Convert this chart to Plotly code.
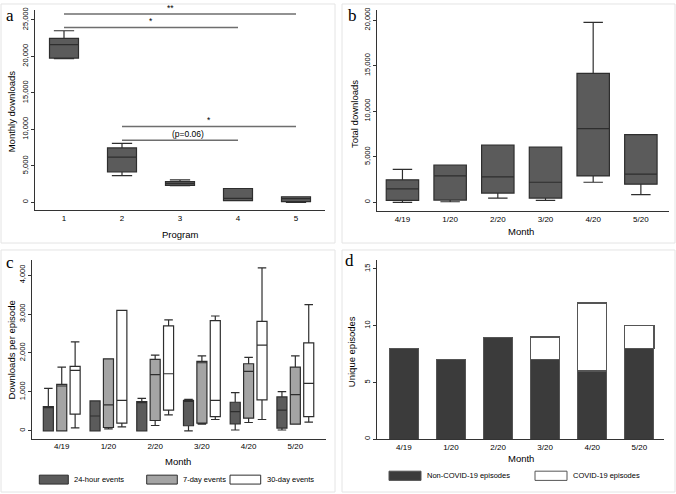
import plotly.graph_objects as go

W, H = 676, 494
FONT = 'Liberation Sans, Arial, sans-serif'
DARK = '#5b5b5b'
GREY = '#a4a4a4'
EDGE = '#2e2e2e'

# ---- panel a: monthly downloads by program
programs = [1, 2, 3, 4, 5]
a_low = [19700, 3660, 2300, 220, 0]
a_q1 = [19760, 4160, 2310, 230, 90]
a_med = [21610, 6190, 2580, 540, 500]
a_q3 = [22470, 7460, 2850, 1900, 770]
a_high = [23510, 8090, 3070, 1900, 770]

sig_from = [1, 1, 2, 2]
sig_to = [5, 4, 5, 4]
sig_level = [25810, 23960, 10400, 8500]
sig_text = ['**', '*', '*', '(p=0.06)']
sig_text_x = [2.83, 2.5, 3.5, 3.14]

# ---- panel b: total downloads by month
months = ['4/19', '1/20', '2/20', '3/20', '4/20', '5/20']
b_low = [0, 70, 470, 220, 2210, 840]
b_q1 = [220, 250, 1020, 470, 2900, 2000]
b_med = [1490, 2900, 2800, 2210, 8090, 3090]
b_q3 = [2470, 4100, 6280, 6060, 14160, 7440]
b_high = [3630, 4100, 6280, 6060, 19750, 7440]

# ---- panel c: downloads per episode
c24_low = [0, 0, 0, 0, 20, 20]
c24_q1 = [0, 0, 0, 130, 180, 70]
c24_med = [600, 380, 725, 780, 494, 529]
c24_q3 = [620, 767, 750, 784, 733, 870]
c24_high = [1090, 767, 835, 810, 980, 1006]

c7_low = [0, 50, 136, 170, 213, 170]
c7_q1 = [0, 85, 264, 196, 324, 170]
c7_med = [1151, 665, 1441, 1748, 1526, 929]
c7_q3 = [1194, 1850, 1833, 1782, 1722, 1637]
c7_high = [1637, 1850, 1944, 1926, 1884, 1926]

c30_low = [77, 102, 409, 290, 290, 222]
c30_q1 = [426, 196, 529, 366, 793, 366]
c30_med = [1552, 784, 1466, 784, 2199, 1219]
c30_q3 = [1654, 3095, 2694, 2830, 2813, 2259]
c30_high = [2285, 3095, 2847, 2949, 4185, 3240]

# ---- panel d: unique episodes
d_non = [8, 7, 9, 7, 6, 8]
d_covid = [0, 0, 0, 2, 6, 2]


def px_x(x):
    return x / W


def px_y(y):
    return 1 - y / H


def box(x, lo, q1, med, q3, hi, fill, xa, ya, group, width=None, ww=0.7, name=None):
    return go.Box(
        x=x, lowerfence=lo, q1=q1, median=med, q3=q3, upperfence=hi,
        fillcolor=fill, line=dict(color=EDGE, width=1.2), whiskerwidth=ww,
        boxpoints=False, width=width, name=name, showlegend=False,
        alignmentgroup=xa, offsetgroup=group,
        xaxis=xa, yaxis=ya, hoverinfo='skip'
    )


fig = go.Figure()

fig.add_trace(box(programs, a_low, a_q1, a_med, a_q3, a_high, DARK, 'x', 'y', 'a', width=0.5, ww=0.7))
fig.add_trace(box(months, b_low, b_q1, b_med, b_q3, b_high, DARK, 'x2', 'y2', 'b', width=0.68, ww=0.6))
fig.add_trace(box(months, c24_low, c24_q1, c24_med, c24_q3, c24_high, DARK, 'x3', 'y3', 'c1',
                  ww=0.85, name='24-hour events'))
fig.add_trace(box(months, c7_low, c7_q1, c7_med, c7_q3, c7_high, GREY, 'x3', 'y3', 'c2',
                  ww=0.85, name='7-day events'))
fig.add_trace(box(months, c30_low, c30_q1, c30_med, c30_q3, c30_high, '#ffffff', 'x3', 'y3', 'c3',
                  ww=0.85, name='30-day events'))

fig.add_trace(go.Bar(x=months, y=d_non, marker=dict(color='#3b3b3b', line=dict(color='#555555', width=1)),
                     width=0.62, xaxis='x4', yaxis='y4', showlegend=False, name='Non-COVID-19 episodes'))
fig.add_trace(go.Bar(x=months, y=[v if v else None for v in d_covid],
                     marker=dict(color='#ffffff', line=dict(color='#555555', width=1.2)),
                     width=0.62, xaxis='x4', yaxis='y4', showlegend=False, name='COVID-19 episodes'))

xax = dict(showline=True, linecolor='#333333', linewidth=1, ticks='', showgrid=False, zeroline=False,
           tickfont=dict(family=FONT, size=8, color='#000000'), fixedrange=True)
yax = dict(showline=True, linecolor='#333333', linewidth=1, ticks='outside', ticklen=3, tickcolor='#333333',
           showgrid=False, zeroline=False, tickangle=-90, tickformat=',d',
           tickfont=dict(family=FONT, size=7.5, color='#000000'))

fig.update_layout(
    width=W, height=H,
    margin=dict(l=0, r=0, t=0, b=0),
    paper_bgcolor='white', plot_bgcolor='white',
    showlegend=False,
    boxmode='group', boxgap=0.14, boxgroupgap=0.25,
    barmode='stack',
    xaxis=dict(xax, domain=[px_x(35), px_x(325)], anchor='y', range=[0.5, 5.5], tickvals=programs),
    yaxis=dict(yax, domain=[px_y(209), px_y(7)], anchor='x', range=[-1087, 26360],
               tickvals=[0, 5000, 10000, 15000, 20000, 25000]),
    xaxis2=dict(xax, domain=[px_x(376.7), px_x(669)], anchor='y2', range=[-0.54, 5.59]),
    yaxis2=dict(yax, domain=[px_y(210), px_y(6.7)], anchor='x2', range=[-980, 21154],
                tickvals=[0, 5000, 10000, 15000, 20000]),
    xaxis3=dict(xax, domain=[px_x(32.3), px_x(325.7)], anchor='y3', range=[-0.63, 5.65]),
    yaxis3=dict(yax, domain=[px_y(439.3), px_y(259)], anchor='x3', range=[-204, 4390],
                tickvals=[0, 1000, 2000, 3000, 4000]),
    xaxis4=dict(xax, domain=[px_x(377), px_x(664.3)], anchor='y4', range=[-0.57, 5.53]),
    yaxis4=dict(yax, domain=[px_y(439.7), px_y(259)], anchor='x4', range=[0, 15.8],
                tickvals=[0, 5, 10, 15]),
)

shapes = []
annotations = []

# light frames round each panel
for x0, y0, x1, y1 in [(1, 1, 335, 242), (342, 1, 675, 242), (1, 249, 335, 493), (342, 249, 675, 493)]:
    shapes.append(dict(type='rect', xref='paper', yref='paper', x0=px_x(x0), x1=px_x(x1),
                       y0=px_y(y1), y1=px_y(y0), line=dict(color='#e4e4e4', width=1), layer='below'))

# significance bars in panel a
for f, t, lvl, txt, tx in zip(sig_from, sig_to, sig_level, sig_text, sig_text_x):
    shapes.append(dict(type='line', xref='x', yref='y', x0=f, x1=t, y0=lvl, y1=lvl,
                       line=dict(color='#6e6e6e', width=1.5)))
    annotations.append(dict(xref='x', yref='y', x=tx, y=lvl, text=txt, showarrow=False,
                            xanchor='center', yanchor='bottom', yshift=-1,
                            font=dict(family=FONT, size=8.5, color='#000000')))

# panel letters
for letter, x, y in [('a', 10, 13), ('b', 352, 13), ('c', 10, 262), ('d', 349, 260)]:
    annotations.append(dict(xref='paper', yref='paper', x=px_x(x), y=px_y(y), text=letter, showarrow=False,
                            xanchor='center', yanchor='middle',
                            font=dict(family='Liberation Serif, Times New Roman, serif', size=17, color='#000000')))

# axis titles
titles = [
    ('Monthly downloads', 11.7, 109.5, -90),
    ('Program', 180.7, 233.3, 0),
    ('Total downloads', 354.3, 111.7, -90),
    ('Month', 521, 230, 0),
    ('Downloads per episode', 11.7, 349.7, -90),
    ('Month', 178.3, 462.3, 0),
    ('Unique episodes', 351.7, 351.3, -90),
    ('Month', 521, 459, 0),
]
for txt, x, y, ang in titles:
    annotations.append(dict(xref='paper', yref='paper', x=px_x(x), y=px_y(y), text=txt, showarrow=False,
                            textangle=ang, xanchor='center', yanchor='middle',
                            font=dict(family=FONT, size=9.5, color='#000000')))

# legends (Stata style wide swatches)
legend_items = [
    (39.3, 68.3, 476, 485, DARK, EDGE, '24-hour events'),
    (146.7, 177.3, 476, 485, GREY, EDGE, '7-day events'),
    (230, 260.7, 476, 485, '#ffffff', EDGE, '30-day events'),
    (389, 421, 472, 481.3, '#3b3b3b', '#555555', 'Non-COVID-19 episodes'),
    (535, 567, 472, 481.3, '#ffffff', '#555555', 'COVID-19 episodes'),
]
for x0, x1, y0, y1, fill, edge, label in legend_items:
    shapes.append(dict(type='rect', xref='paper', yref='paper', x0=px_x(x0), x1=px_x(x1),
                       y0=px_y(y1), y1=px_y(y0), fillcolor=fill, line=dict(color=edge, width=1)))
    annotations.append(dict(xref='paper', yref='paper', x=px_x(x1 + 4), y=px_y((y0 + y1) / 2), text=label,
                            showarrow=False, xanchor='left', yanchor='middle',
                            font=dict(family=FONT, size=7.5, color='#000000')))

fig.update_layout(shapes=shapes, annotations=annotations)

fig.write_html("out.html", config={'displayModeBar': False},
               post_script="document.body.style.margin='0px';")
